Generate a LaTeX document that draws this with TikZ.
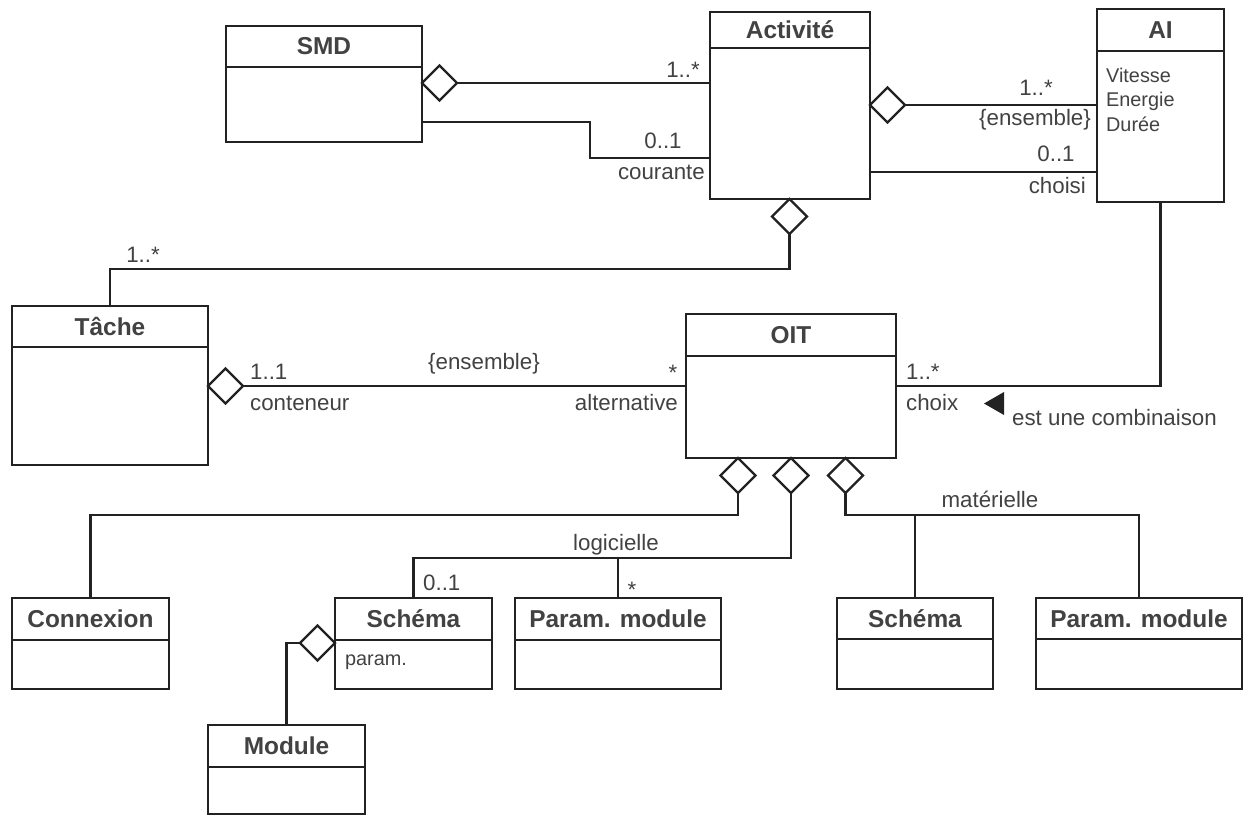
\documentclass[tikz,border=0pt]{standalone}
\usepackage{fontspec}
\setmainfont{Liberation Sans}
\usetikzlibrary{shapes.geometric}
\definecolor{ink}{RGB}{34,34,34}
\definecolor{txt}{RGB}{66,66,66}

\begin{document}
\begin{tikzpicture}[x=0.02cm,y=-0.02cm,color=ink,line width=1.3pt,
    head/.style={draw,fill=white,inner sep=0pt,outer sep=0pt,anchor=north west,text=txt,font=\bfseries\fontsize{13.9}{16}\selectfont},
    body/.style={draw,fill=white,inner sep=0pt,outer sep=0pt,anchor=north},
    agg/.style={diamond,draw,fill=white,inner sep=0pt,outer sep=0pt,minimum width=0.7cm,minimum height=0.7cm},
    lbl/.style={inner sep=0pt,text=txt,font=\fontsize{12.7}{15}\selectfont},
    attr/.style={inner sep=0pt,text=txt,align=left,font=\fontsize{11.3}{13.9}\selectfont}]
    \useasboundingbox (0,0) rectangle (1248,816);

    % Classes du haut
    \node[head,minimum width=3.92cm,minimum height=0.82cm] (smd) at (226,26) {SMD};
    \node[body,minimum width=3.92cm,minimum height=1.5cm] (smdb) at (smd.south) {};
    \node[head,minimum width=3.2cm,minimum height=0.72cm] (act) at (710,12) {Activité};
    \node[body,minimum width=3.2cm,minimum height=3.02cm] (actb) at (act.south) {};
    \node[head,minimum width=2.54cm,minimum height=0.84cm] (ai) at (1097,9) {AI};
    \node[body,minimum width=2.54cm,minimum height=3.02cm] (aib) at (ai.south) {};
    \node[attr,anchor=north west] (aiattr) at (1105,67) {Vitesse\\Energie\\Durée};

    % Classes du milieu
    \node[head,minimum width=3.92cm,minimum height=0.82cm] (tache) at (12,306) {Tâche};
    \node[body,minimum width=3.92cm,minimum height=2.36cm] (tacheb) at (tache.south) {};
    \node[head,minimum width=4.2cm,minimum height=0.84cm] (oit) at (686,314) {OIT};
    \node[body,minimum width=4.2cm,minimum height=2.04cm] (oitb) at (oit.south) {};

    % Classes du bas
    \node[head,minimum width=3.14cm,minimum height=0.84cm] (conn) at (12,598) {Connexion};
    \node[body,minimum width=3.14cm,minimum height=0.98cm] (connb) at (conn.south) {};
    \node[head,minimum width=3.14cm,minimum height=0.84cm] (sch) at (335,598) {Schéma};
    \node[body,minimum width=3.14cm,minimum height=0.98cm] (schb) at (sch.south) {};
    \node[attr,anchor=west] (schattr) at (344,662) {param.};
    \node[head,minimum width=4.12cm,minimum height=0.84cm] (pmod) at (515,598) {Param. module};
    \node[body,minimum width=4.12cm,minimum height=0.98cm] (pmodb) at (pmod.south) {};
    \node[head,minimum width=3.12cm,minimum height=0.82cm] (sch2) at (837,598) {Schéma};
    \node[body,minimum width=3.12cm,minimum height=1.0cm] (sch2b) at (sch2.south) {};
    \node[head,minimum width=4.12cm,minimum height=0.82cm] (pmod2) at (1036,598) {Param. module};
    \node[body,minimum width=4.12cm,minimum height=1.0cm] (pmod2b) at (pmod2.south) {};
    \node[head,minimum width=3.14cm,minimum height=0.84cm] (mod) at (208,725) {Module};
    \node[body,minimum width=3.14cm,minimum height=0.94cm] (modb) at (mod.south) {};

    % Losanges d'agregation
    \node[agg,anchor=west] (dsmd) at (smdb.east |- 0,83) {};
    \node[agg,anchor=west] (dact) at (actb.east |- 0,105) {};
    \node[agg,anchor=north] (dactb) at (789.5,199) {};
    \node[agg,anchor=west] (dtache) at (tacheb.east |- 0,386) {};
    \node[agg,anchor=north] (doit1) at (738,458) {};
    \node[agg,anchor=north] (doit2) at (791,458) {};
    \node[agg,anchor=north] (doit3) at (845.5,458) {};
    \node[agg,anchor=east] (dsch) at (schb.west |- 0,643) {};

    % Associations
    \draw (dsmd.east) -- (dsmd.east -| actb.west);
    \draw (smdb.east |- 0,122) -| (590,158) -- (actb.west |- 0,158);
    \draw (dact.east) -- (dact.east -| aib.west);
    \draw (actb.east |- 0,172) -- (aib.west |- 0,172);
    \draw (dactb.south) -- ++(0,35) -| (tache.north);
    \draw (aib.south) |- (oitb.east |- 0,386);
    \draw (dtache.east) -- (dtache.east -| oitb.west);
    \draw (doit1.south) -- ++(0,22) -| (conn.north);
    \draw (doit2.south) -- ++(0,65) -| (sch.north);
    \draw (pmod.north) -- ++(0,-40);
    \draw (doit3.south) -- ++(0,22) -| (pmod2.north);
    \draw (sch2.north) -- ++(0,-82);
    \draw (dsch.west) -| (mod.north);

    % Sens de lecture
    \fill (1004,392) -- (984,403.5) -- (1004,415) -- cycle;

    % Multiplicites et roles
    \node[lbl] (m1) at (683,70) {1..*};
    \node[lbl] (m2) at (663,141) {0..1};
    \node[lbl,anchor=east] (r1) at (706,172) {courante};
    \node[lbl] (m3) at (1036,88) {1..*};
    \node[lbl,anchor=east] (c1) at (1092,120) {\{ensemble\}};
    \node[lbl] (m4) at (1056,154) {0..1};
    \node[lbl,anchor=east] (r2) at (1087,186) {choisi};
    \node[lbl] (m5) at (143,255) {1..*};
    \node[lbl,anchor=west] (m6) at (249,372) {1..1};
    \node[lbl,anchor=west] (r3) at (249,403) {conteneur};
    \node[lbl] (c2) at (484,364) {\{ensemble\}};
    \node[lbl] (m7) at (673,373) {*};
    \node[lbl,anchor=east] (r4) at (679,403) {alternative};
    \node[lbl,anchor=west] (m8) at (905,372) {1..*};
    \node[lbl,anchor=west] (r5) at (905,403) {choix};
    \node[lbl,anchor=west] (note) at (1011,418) {est une combinaison};
    \node[lbl] (g1) at (616,545) {logicielle};
    \node[lbl,anchor=west] (m9) at (422,583) {0..1};
    \node[lbl] (m10) at (632,590) {*};
    \node[lbl] (g2) at (990,499) {matérielle};
\end{tikzpicture}
\end{document}
